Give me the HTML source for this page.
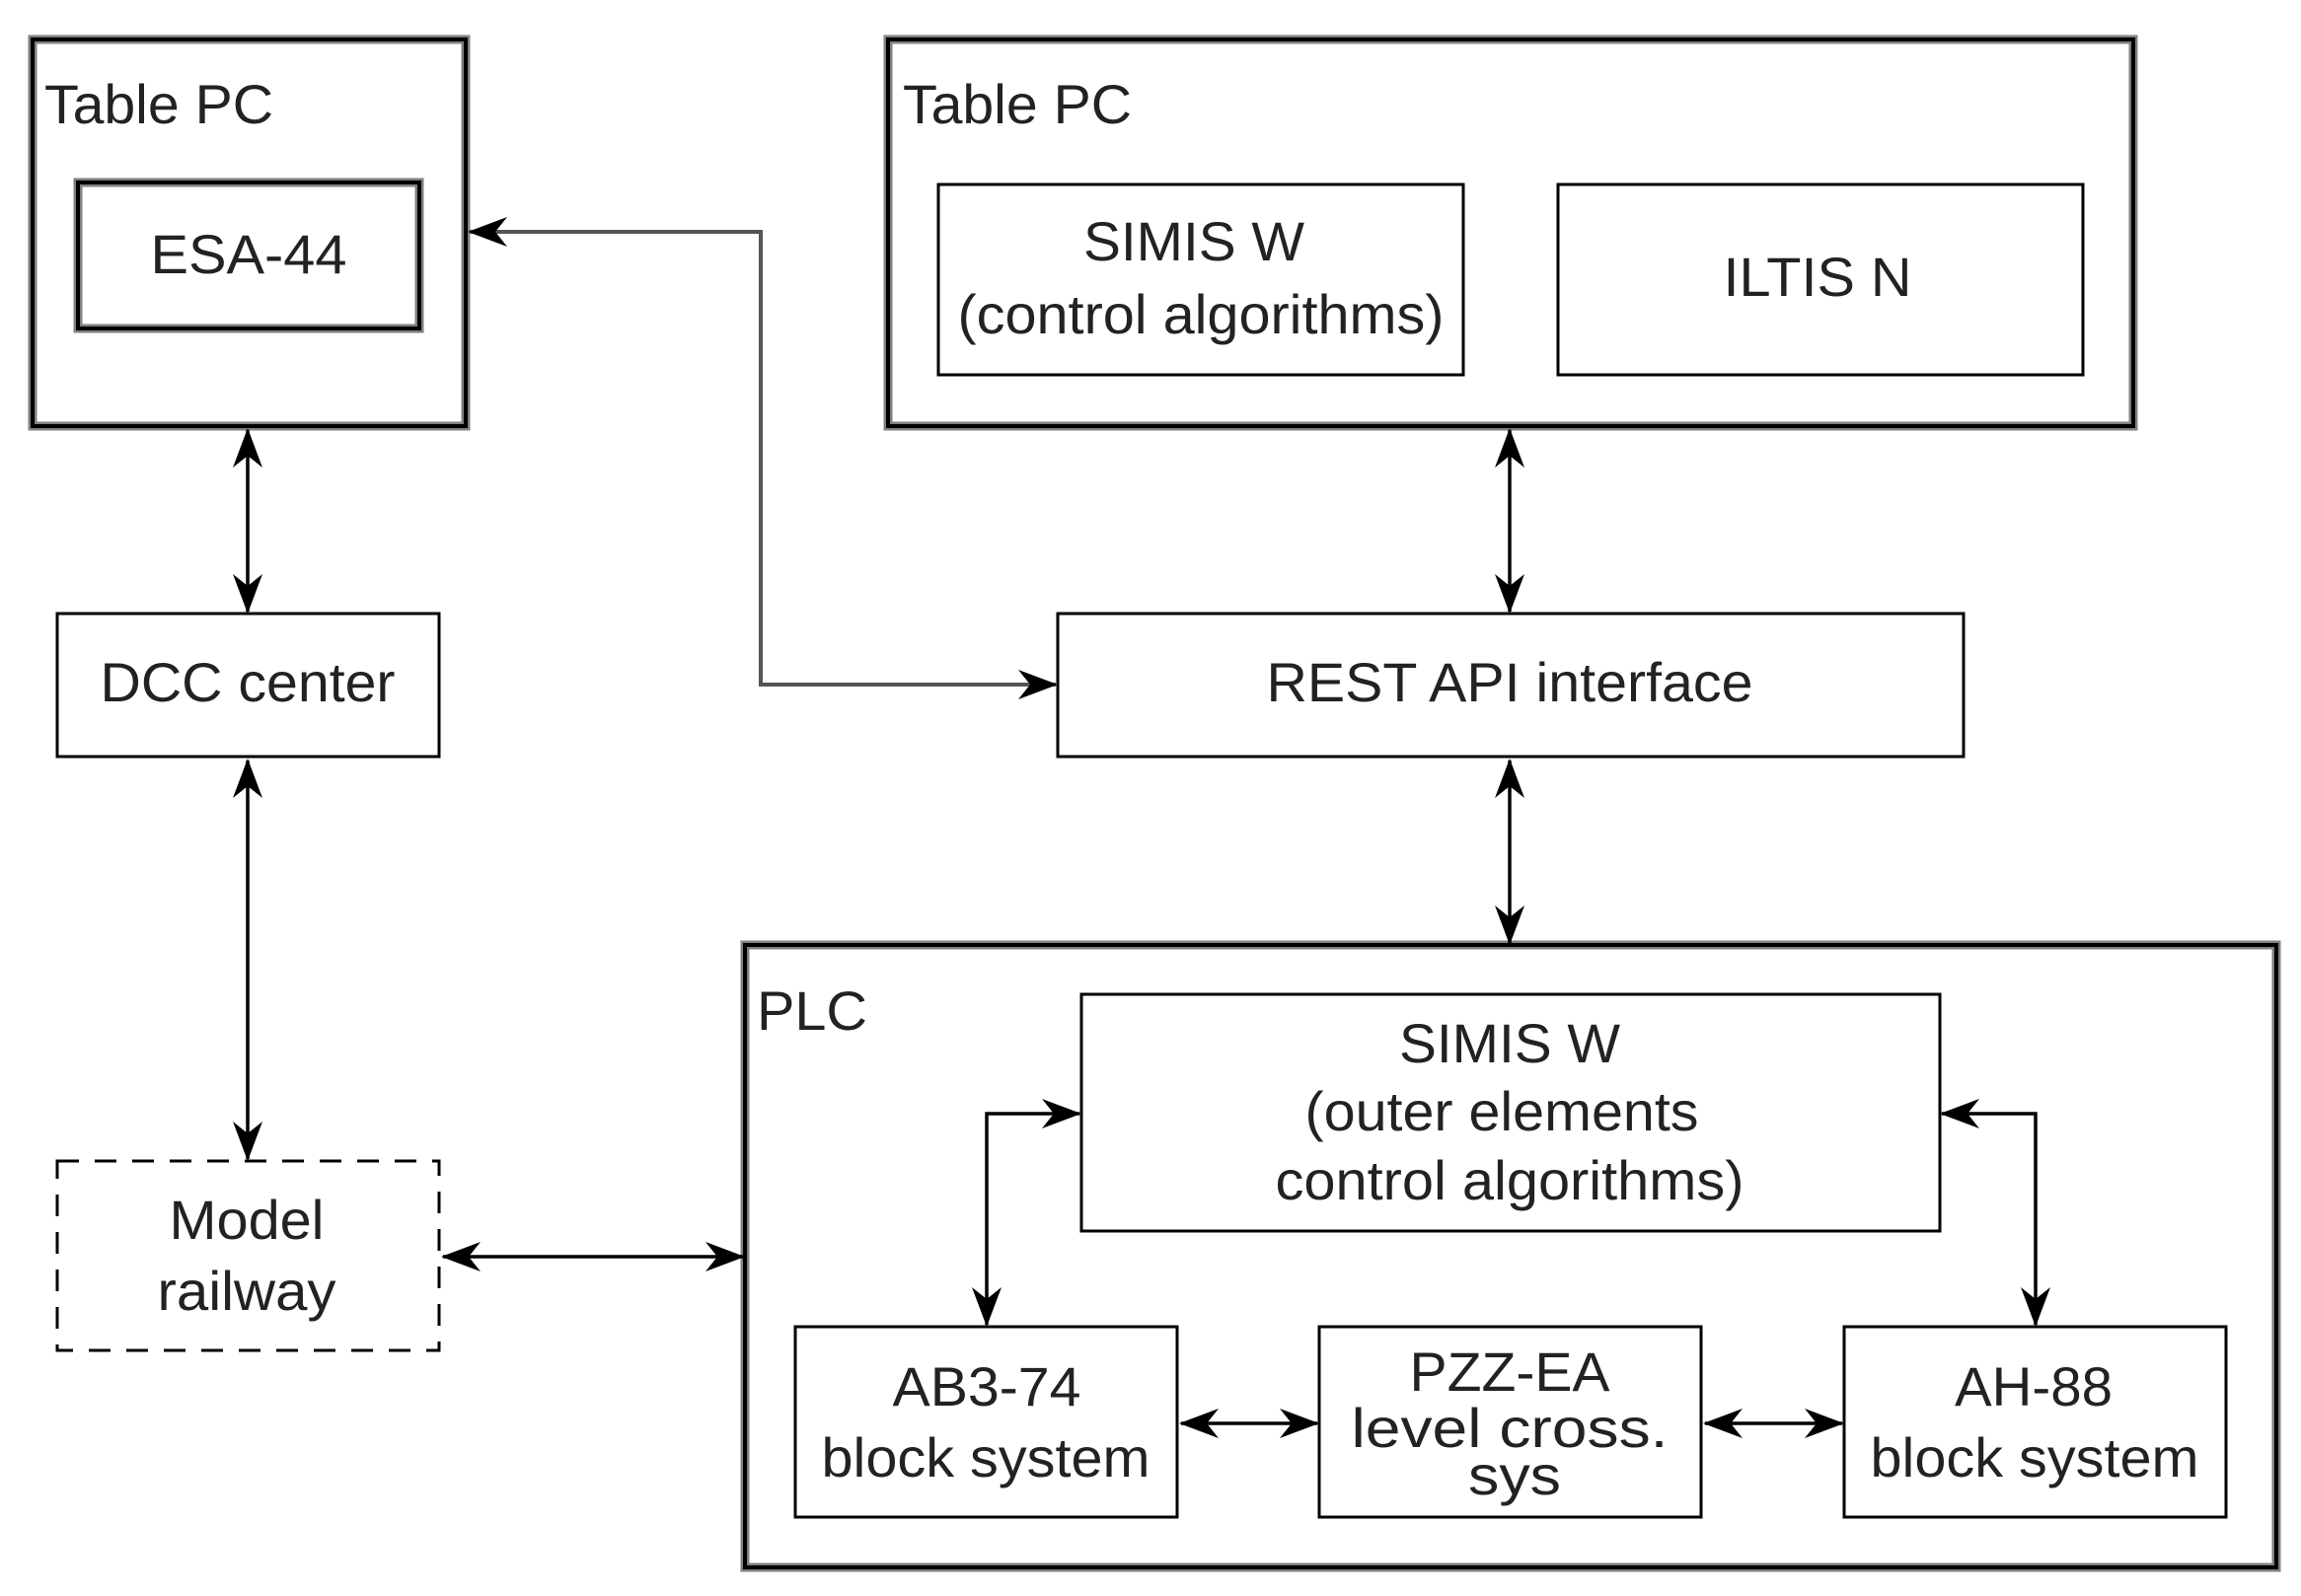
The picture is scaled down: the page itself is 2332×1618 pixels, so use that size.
<!DOCTYPE html>
<html><head><meta charset="utf-8"><style>html,body{margin:0;padding:0;background:#fff}svg{display:block}</style></head>
<body>
<svg width="2332" height="1618" viewBox="0 0 2332 1618" xmlns="http://www.w3.org/2000/svg">
<defs>
<marker id="a" viewBox="0 0 20 20" refX="19" refY="10" markerWidth="40" markerHeight="40" markerUnits="userSpaceOnUse" orient="auto-start-reverse">
<path d="M0,2.5 L20,10 L0,17.5 L6,10 Z" fill="#000"/></marker>
</defs>
<g fill="none">
<rect x="33" y="40" width="439" height="392" stroke="#808080" stroke-width="9"/>
<rect x="33" y="40" width="439" height="392" stroke="#000" stroke-width="4"/>
<rect x="79" y="185" width="346" height="148" stroke="#808080" stroke-width="9"/>
<rect x="79" y="185" width="346" height="148" stroke="#000" stroke-width="4"/>
<rect x="900" y="40" width="1262" height="392" stroke="#808080" stroke-width="9"/>
<rect x="900" y="40" width="1262" height="392" stroke="#000" stroke-width="4"/>
<rect x="755" y="958" width="1552" height="631" stroke="#808080" stroke-width="9"/>
<rect x="755" y="958" width="1552" height="631" stroke="#000" stroke-width="4"/>
<g stroke="#000" stroke-width="3">
<rect x="951" y="187" width="532" height="193"/>
<rect x="1579" y="187" width="532" height="193"/>
<rect x="58" y="622" width="387" height="145"/>
<rect x="1072" y="622" width="918" height="145"/>
<rect x="58" y="1177" width="387" height="192" stroke-dasharray="22,16"/>
<rect x="1096" y="1008" width="870" height="240"/>
<rect x="806" y="1345" width="387" height="193"/>
<rect x="1337" y="1345" width="387" height="193"/>
<rect x="1869" y="1345" width="387" height="193"/>
</g>
<g stroke="#000" stroke-width="3.5">
<line x1="251" y1="436" x2="251" y2="620" marker-start="url(#a)" marker-end="url(#a)"/>
<line x1="251" y1="771" x2="251" y2="1175" marker-start="url(#a)" marker-end="url(#a)"/>
<line x1="449" y1="1274" x2="753" y2="1274" marker-start="url(#a)" marker-end="url(#a)"/>
<line x1="1530" y1="436" x2="1530" y2="620" marker-start="url(#a)" marker-end="url(#a)"/>
<line x1="1530" y1="771" x2="1530" y2="956" marker-start="url(#a)" marker-end="url(#a)"/>
<polyline points="1094,1129 1000,1129 1000,1343" marker-start="url(#a)" marker-end="url(#a)"/>
<polyline points="1968,1129 2063,1129 2063,1343" marker-start="url(#a)" marker-end="url(#a)"/>
<line x1="1197" y1="1443" x2="1335" y2="1443" marker-start="url(#a)" marker-end="url(#a)"/>
<line x1="1728" y1="1443" x2="1867" y2="1443" marker-start="url(#a)" marker-end="url(#a)"/>
</g>
<polyline points="476,235 771,235 771,694 1070,694" stroke="#555" stroke-width="4" marker-start="url(#a)" marker-end="url(#a)"/>
</g>
<g font-family="Liberation Sans, sans-serif" font-size="56" fill="#222" text-anchor="middle">
<text x="45" y="125" text-anchor="start" textLength="232" lengthAdjust="spacingAndGlyphs">Table PC</text>
<text x="915" y="125" text-anchor="start" textLength="232" lengthAdjust="spacingAndGlyphs">Table PC</text>
<text x="767" y="1044" text-anchor="start" textLength="112" lengthAdjust="spacingAndGlyphs">PLC</text>
<text x="252" y="277" textLength="199" lengthAdjust="spacingAndGlyphs">ESA-44</text>
<text x="1210" y="264" textLength="224" lengthAdjust="spacingAndGlyphs">SIMIS W</text>
<text x="1217" y="338" textLength="493" lengthAdjust="spacingAndGlyphs">(control algorithms)</text>
<text x="1842" y="300" textLength="191" lengthAdjust="spacingAndGlyphs">ILTIS N</text>
<text x="251" y="711" textLength="299" lengthAdjust="spacingAndGlyphs">DCC center</text>
<text x="1530" y="711" textLength="493" lengthAdjust="spacingAndGlyphs">REST API interface</text>
<text x="250" y="1256" textLength="157" lengthAdjust="spacingAndGlyphs">Model</text>
<text x="250" y="1328" textLength="181" lengthAdjust="spacingAndGlyphs">railway</text>
<text x="1530" y="1077" textLength="224" lengthAdjust="spacingAndGlyphs">SIMIS W</text>
<text x="1522" y="1146" textLength="399" lengthAdjust="spacingAndGlyphs">(outer elements</text>
<text x="1530" y="1216" textLength="475" lengthAdjust="spacingAndGlyphs">control algorithms)</text>
<text x="1000" y="1425" textLength="191" lengthAdjust="spacingAndGlyphs">AB3-74</text>
<text x="999" y="1497" textLength="333" lengthAdjust="spacingAndGlyphs">block system</text>
<text x="1530" y="1410" textLength="203" lengthAdjust="spacingAndGlyphs">PZZ-EA</text>
<text x="1530" y="1467" textLength="321" lengthAdjust="spacingAndGlyphs">level cross.</text>
<text x="1535" y="1515" textLength="94" lengthAdjust="spacingAndGlyphs">sys</text>
<text x="2061" y="1425" textLength="160" lengthAdjust="spacingAndGlyphs">AH-88</text>
<text x="2062" y="1497" textLength="333" lengthAdjust="spacingAndGlyphs">block system</text>
</g>
</svg>
</body></html>
